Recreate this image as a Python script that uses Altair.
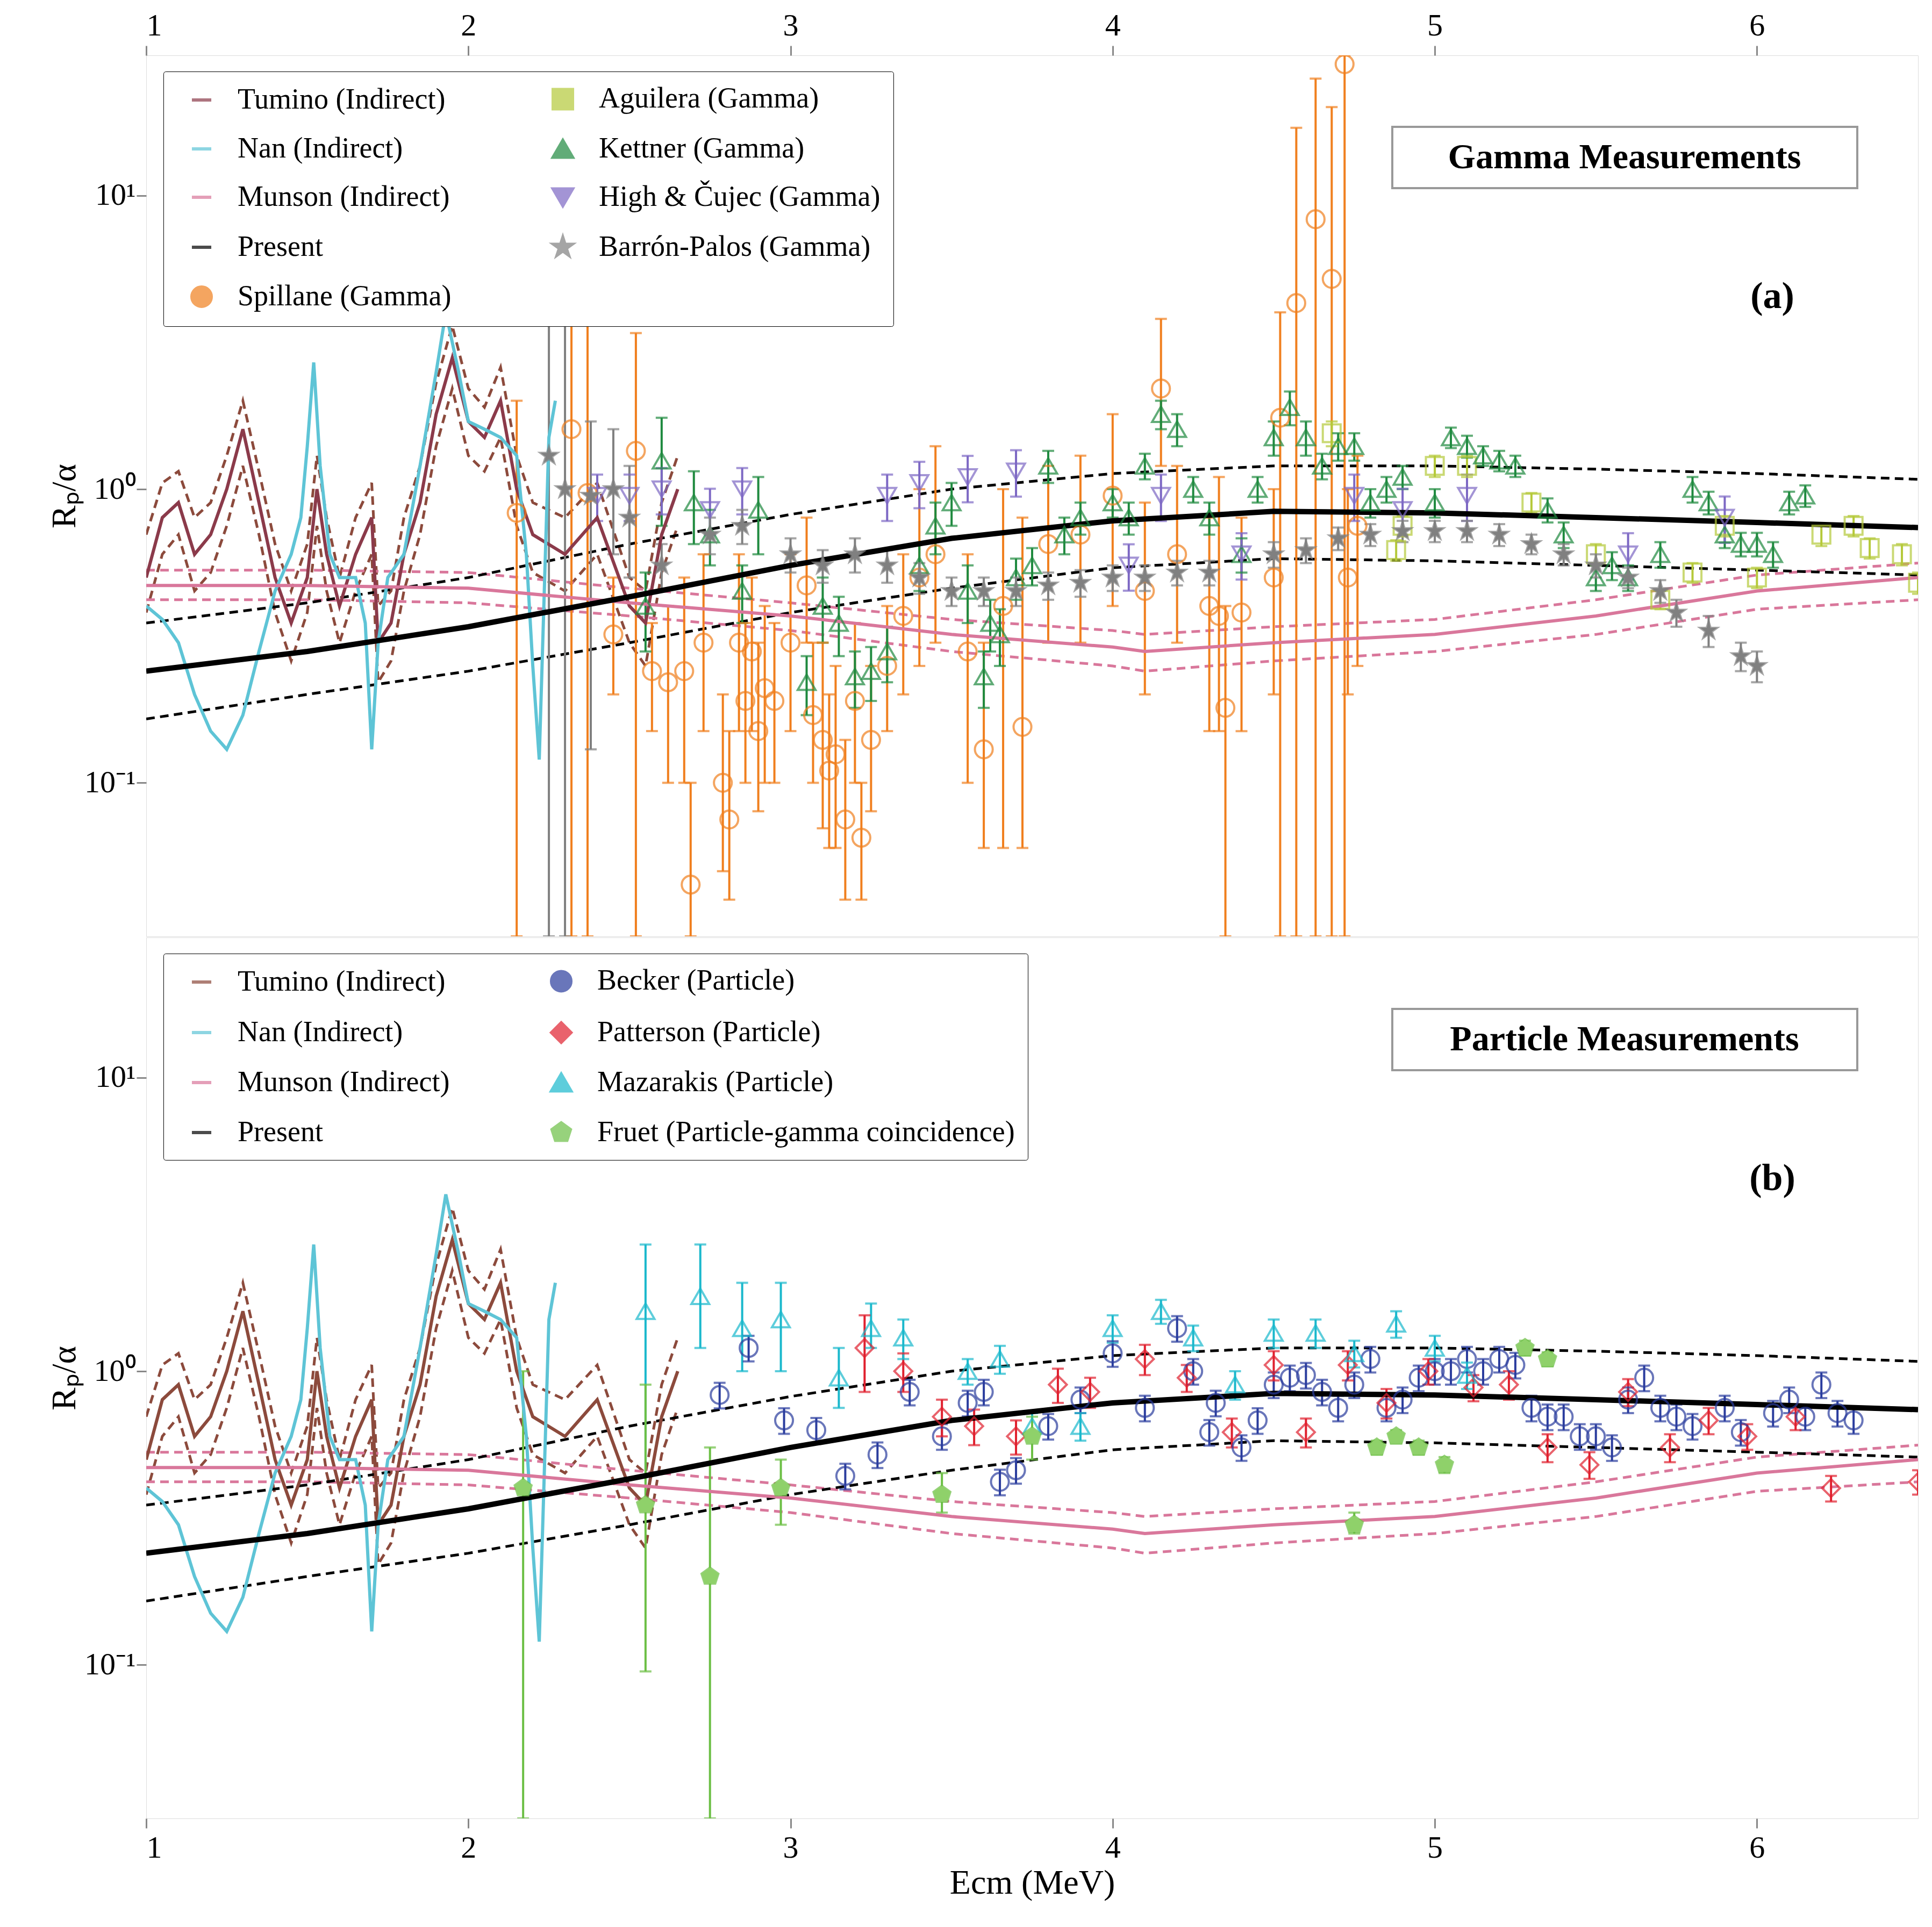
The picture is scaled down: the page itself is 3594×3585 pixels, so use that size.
import altair as alt
import pandas as pd

FONT = "Liberation Serif"

# ---------------- curves ----------------
present_x = [1.0, 1.5, 2.0, 2.5, 3.0, 3.5, 4.0, 4.5, 5.0, 5.5, 6.0, 6.5]
present_y = [0.24, 0.28, 0.34, 0.43, 0.55, 0.68, 0.78, 0.84, 0.83, 0.80, 0.77, 0.74]
present_hi = [0.35, 0.41, 0.50, 0.65, 0.82, 1.00, 1.13, 1.20, 1.20, 1.17, 1.13, 1.08]
present_lo = [0.165, 0.20, 0.24, 0.30, 0.38, 0.46, 0.54, 0.58, 0.57, 0.55, 0.53, 0.51]

munson_x = [1.0, 1.5, 2.0, 2.5, 3.0, 3.5, 4.0, 4.1, 4.5, 5.0, 5.5, 6.0, 6.5]
munson_y = [0.47, 0.47, 0.46, 0.41, 0.37, 0.32, 0.29, 0.28, 0.30, 0.32, 0.37, 0.45, 0.50]
munson_hi = [0.53, 0.53, 0.52, 0.46, 0.41, 0.36, 0.33, 0.32, 0.34, 0.36, 0.42, 0.51, 0.56]
munson_lo = [0.42, 0.42, 0.41, 0.37, 0.33, 0.28, 0.25, 0.24, 0.26, 0.28, 0.32, 0.39, 0.42]

tumino_x = [1.0, 1.05, 1.1, 1.15, 1.2, 1.25, 1.3, 1.35, 1.4, 1.45, 1.5, 1.53, 1.56, 1.6, 1.65, 1.7,
            1.72, 1.76, 1.8, 1.85, 1.9, 1.95, 2.0, 2.05, 2.1, 2.15, 2.2, 2.3, 2.4, 2.5, 2.55, 2.6, 2.65]
tumino_y = [0.5, 0.8, 0.9, 0.6, 0.7, 1.0, 1.6, 0.9, 0.5, 0.35, 0.5, 1.0, 0.6, 0.4, 0.6, 0.8,
            0.3, 0.35, 0.6, 0.9, 1.8, 2.8, 1.7, 1.5, 2.0, 1.0, 0.7, 0.6, 0.8, 0.4, 0.35, 0.7, 1.0]
tumino_hi = [0.7, 1.05, 1.15, 0.8, 0.9, 1.3, 2.0, 1.15, 0.65, 0.45, 0.65, 1.3, 0.8, 0.5, 0.8, 1.05,
             0.4, 0.45, 0.8, 1.2, 2.3, 3.6, 2.2, 1.9, 2.6, 1.3, 0.9, 0.8, 1.05, 0.5, 0.45, 0.9, 1.3]
tumino_lo = [0.38, 0.6, 0.7, 0.45, 0.52, 0.75, 1.2, 0.7, 0.38, 0.26, 0.38, 0.75, 0.45, 0.3, 0.45, 0.6,
             0.22, 0.26, 0.45, 0.7, 1.4, 2.2, 1.3, 1.15, 1.5, 0.75, 0.52, 0.45, 0.6, 0.3, 0.25, 0.52, 0.75]

nan_x = [1.0, 1.05, 1.1, 1.15, 1.2, 1.25, 1.3, 1.35, 1.4, 1.45, 1.48, 1.5, 1.52, 1.54, 1.57, 1.6, 1.65,
         1.68, 1.7, 1.72, 1.75, 1.8, 1.85, 1.9, 1.93, 1.97, 2.0, 2.05, 2.1, 2.15, 2.18, 2.2, 2.22, 2.25, 2.27]
nan_y = [0.4, 0.36, 0.3, 0.2, 0.15, 0.13, 0.17, 0.28, 0.45, 0.6, 0.8, 1.4, 2.7, 1.2, 0.6, 0.5, 0.5,
         0.35, 0.13, 0.3, 0.5, 0.6, 1.2, 2.5, 4.0, 2.5, 1.7, 1.6, 1.5, 1.3, 0.6, 0.25, 0.12, 1.5, 2.0]

# ---------------- gamma data (x, y, lo, hi) ----------------
spillane = [
    (2.15, 0.83, 0.03, 2.0), (2.32, 1.6, 0.03, 8.0), (2.37, 0.97, 0.03, 4.6), (2.45, 0.32, 0.2, 0.5),
    (2.52, 1.35, 0.03, 3.4), (2.57, 0.24, 0.15, 0.35), (2.62, 0.22, 0.1, 0.4), (2.67, 0.24, 0.1, 0.5),
    (2.69, 0.045, 0.03, 0.1), (2.73, 0.3, 0.15, 0.6), (2.79, 0.1, 0.05, 0.2), (2.81, 0.075, 0.04, 0.15),
    (2.84, 0.3, 0.15, 0.6), (2.86, 0.19, 0.1, 0.35), (2.88, 0.28, 0.15, 0.5), (2.9, 0.15, 0.08, 0.3),
    (2.92, 0.21, 0.1, 0.4), (2.95, 0.19, 0.1, 0.35), (3.0, 0.3, 0.15, 0.6), (3.05, 0.47, 0.3, 0.8),
    (3.07, 0.17, 0.1, 0.3), (3.1, 0.14, 0.07, 0.3), (3.12, 0.11, 0.06, 0.2), (3.14, 0.125, 0.06, 0.25),
    (3.17, 0.075, 0.04, 0.14), (3.2, 0.19, 0.1, 0.35), (3.22, 0.065, 0.04, 0.1), (3.25, 0.14, 0.08, 0.25),
    (3.3, 0.25, 0.15, 0.4), (3.35, 0.37, 0.2, 0.6), (3.4, 0.5, 0.25, 1.0), (3.45, 0.6, 0.3, 1.4),
    (3.55, 0.28, 0.1, 0.6), (3.6, 0.13, 0.06, 0.3), (3.66, 0.4, 0.06, 1.0), (3.72, 0.155, 0.06, 0.8),
    (3.8, 0.65, 0.3, 1.2), (3.9, 0.7, 0.3, 1.3), (4.0, 0.95, 0.4, 1.8), (4.1, 0.45, 0.2, 0.9),
    (4.15, 2.2, 1.2, 3.8), (4.2, 0.6, 0.3, 1.2), (4.3, 0.4, 0.15, 0.8), (4.33, 0.37, 0.15, 1.1),
    (4.35, 0.18, 0.03, 0.4), (4.4, 0.38, 0.15, 0.8), (4.5, 0.5, 0.2, 1.0), (4.52, 1.75, 0.03, 4.0),
    (4.57, 4.3, 0.03, 17.0), (4.63, 8.3, 0.03, 25.0), (4.68, 5.2, 0.03, 20.0), (4.72, 28.0, 0.03, 30.0),
    (4.73, 0.5, 0.2, 1.0), (4.76, 0.75, 0.25, 1.3),
]
aguilera = [
    (4.68, 1.55, 1.4, 1.7), (4.88, 0.62, 0.57, 0.67), (4.9, 0.75, 0.69, 0.81), (5.0, 1.2, 1.1, 1.3),
    (5.1, 1.2, 1.1, 1.3), (5.3, 0.9, 0.83, 0.97), (5.5, 0.6, 0.55, 0.65), (5.7, 0.42, 0.39, 0.45),
    (5.8, 0.52, 0.48, 0.56), (5.9, 0.75, 0.69, 0.81), (6.0, 0.5, 0.46, 0.54), (6.2, 0.7, 0.64, 0.76),
    (6.3, 0.75, 0.69, 0.81), (6.35, 0.63, 0.58, 0.68), (6.45, 0.6, 0.55, 0.65), (6.5, 0.48, 0.44, 0.52),
]
kettner_x = [2.55, 2.6, 2.7, 2.75, 2.85, 2.9, 3.05, 3.1, 3.15, 3.2, 3.25, 3.3, 3.4, 3.45, 3.5, 3.55,
             3.6, 3.62, 3.65, 3.7, 3.75, 3.8, 3.85, 3.9, 4.0, 4.05, 4.1, 4.15, 4.2, 4.25, 4.3, 4.4,
             4.45, 4.5, 4.55, 4.6, 4.65, 4.7, 4.75, 4.8, 4.85, 4.9, 5.0, 5.05, 5.1, 5.15, 5.2, 5.25,
             5.35, 5.4, 5.5, 5.55, 5.6, 5.7, 5.8, 5.85, 5.9, 5.95, 6.0, 6.05, 6.1, 6.15]
kettner_y = [0.4, 1.25, 0.9, 0.7, 0.45, 0.85, 0.22, 0.4, 0.35, 0.23, 0.24, 0.28, 0.55, 0.75, 0.9, 0.45,
             0.23, 0.35, 0.32, 0.5, 0.55, 1.2, 0.7, 0.8, 0.9, 0.8, 1.2, 1.8, 1.6, 1.0, 0.8, 0.6,
             1.0, 1.5, 1.9, 1.5, 1.2, 1.4, 1.4, 0.9, 1.0, 1.1, 0.9, 1.5, 1.4, 1.3, 1.25, 1.2,
             0.85, 0.7, 0.5, 0.55, 0.5, 0.6, 1.0, 0.9, 0.7, 0.65, 0.65, 0.6, 0.9, 0.95]
kettner_err = [0.12, 0.5, 0.25, 0.15, 0.1, 0.25, 0.05, 0.1, 0.08, 0.05, 0.05, 0.06, 0.1, 0.15, 0.15, 0.1,
               0.05, 0.07, 0.07, 0.08, 0.08, 0.15, 0.1, 0.1, 0.1, 0.1, 0.12, 0.2, 0.2, 0.1, 0.1, 0.08,
               0.1, 0.2, 0.25, 0.2, 0.12, 0.15, 0.15, 0.1, 0.1, 0.1, 0.1, 0.12, 0.12, 0.1, 0.1, 0.1,
               0.08, 0.07, 0.05, 0.06, 0.05, 0.06, 0.1, 0.08, 0.07, 0.06, 0.06, 0.06, 0.08, 0.08]
high_x = [2.4, 2.5, 2.6, 2.75, 2.85, 3.3, 3.4, 3.55, 3.7, 4.05, 4.15, 4.4, 4.75, 4.9, 5.1, 5.6, 5.9]
high_y = [0.95, 0.95, 1.0, 0.85, 1.0, 0.95, 1.05, 1.1, 1.15, 0.55, 0.95, 0.6, 0.95, 0.85, 0.95, 0.6, 0.8]
barron_x = [2.25, 2.3, 2.38, 2.45, 2.5, 2.6, 2.75, 2.85, 3.0, 3.1, 3.2, 3.3, 3.4, 3.5, 3.6, 3.7, 3.8,
            3.9, 4.0, 4.1, 4.2, 4.3, 4.5, 4.6, 4.7, 4.8, 4.9, 5.0, 5.1, 5.2, 5.3, 5.4, 5.5, 5.6,
            5.7, 5.75, 5.85, 5.95, 6.0]
barron_y = [1.3, 1.0, 0.95, 1.0, 0.8, 0.55, 0.7, 0.75, 0.6, 0.55, 0.6, 0.55, 0.5, 0.45, 0.45, 0.45, 0.47,
            0.48, 0.5, 0.5, 0.52, 0.52, 0.6, 0.62, 0.68, 0.7, 0.72, 0.72, 0.72, 0.7, 0.65, 0.6, 0.55, 0.5,
            0.45, 0.38, 0.33, 0.27, 0.25]
barron_lo = [0.03, 0.03, 0.13, 0.6, 0.5, 0.45, 0.6, 0.65, 0.52, 0.48, 0.52, 0.48, 0.44, 0.4, 0.4, 0.4, 0.42,
             0.43, 0.45, 0.45, 0.47, 0.47, 0.54, 0.56, 0.62, 0.64, 0.66, 0.66, 0.66, 0.64, 0.6, 0.55, 0.5,
             0.46, 0.41, 0.34, 0.29, 0.24, 0.22]
barron_hi = [4.8, 4.6, 1.7, 1.6, 1.2, 0.65, 0.8, 0.85, 0.68, 0.62, 0.68, 0.62, 0.56, 0.5, 0.5, 0.5, 0.52,
             0.53, 0.55, 0.55, 0.57, 0.57, 0.66, 0.68, 0.74, 0.76, 0.78, 0.78, 0.78, 0.76, 0.7, 0.65, 0.6,
             0.54, 0.49, 0.42, 0.37, 0.3, 0.28]

# ---------------- particle data ----------------
becker_x = [2.78, 2.87, 2.98, 3.08, 3.17, 3.27, 3.37, 3.47, 3.55, 3.6, 3.65, 3.7, 3.8, 3.9, 4.0, 4.1,
            4.2, 4.25, 4.3, 4.32, 4.4, 4.45, 4.5, 4.55, 4.6, 4.65, 4.7, 4.75, 4.8, 4.85, 4.9, 4.95,
            5.0, 5.05, 5.1, 5.15, 5.2, 5.25, 5.3, 5.35, 5.4, 5.45, 5.5, 5.55, 5.6, 5.65, 5.7, 5.75,
            5.8, 5.9, 5.95, 6.05, 6.1, 6.15, 6.2, 6.25, 6.3]
becker_y = [0.83, 1.2, 0.68, 0.63, 0.44, 0.52, 0.85, 0.6, 0.78, 0.85, 0.42, 0.46, 0.65, 0.8, 1.15, 0.75,
            1.4, 1.0, 0.62, 0.78, 0.55, 0.68, 0.9, 0.95, 0.97, 0.85, 0.75, 0.9, 1.1, 0.75, 0.8, 0.95,
            1.0, 1.0, 1.1, 1.0, 1.1, 1.05, 0.75, 0.7, 0.7, 0.6, 0.6, 0.55, 0.8, 0.95, 0.75, 0.7,
            0.65, 0.75, 0.62, 0.72, 0.8, 0.7, 0.9, 0.72, 0.68]
patterson = [
    (3.23, 1.2, 0.85, 1.55), (3.35, 1.0, 0.85, 1.15), (3.47, 0.7, 0.6, 0.8), (3.57, 0.65, 0.56, 0.74),
    (3.7, 0.6, 0.52, 0.68), (3.83, 0.9, 0.78, 1.02), (3.93, 0.85, 0.75, 0.95), (4.1, 1.1, 0.97, 1.23),
    (4.23, 0.95, 0.85, 1.05), (4.37, 0.62, 0.55, 0.69), (4.5, 1.05, 0.93, 1.17), (4.6, 0.62, 0.55, 0.69),
    (4.73, 1.05, 0.93, 1.17), (4.85, 0.78, 0.69, 0.87), (4.98, 1.0, 0.9, 1.1), (5.12, 0.88, 0.79, 0.97),
    (5.23, 0.9, 0.8, 1.0), (5.35, 0.55, 0.49, 0.61), (5.48, 0.48, 0.43, 0.53), (5.6, 0.85, 0.76, 0.94),
    (5.73, 0.55, 0.49, 0.61), (5.85, 0.68, 0.61, 0.75), (5.97, 0.6, 0.54, 0.66), (6.12, 0.7, 0.63, 0.77),
    (6.23, 0.4, 0.36, 0.44), (6.5, 0.42, 0.38, 0.46),
]
mazarakis = [
    (2.55, 1.6, 0.35, 2.7), (2.72, 1.8, 1.2, 2.7), (2.85, 1.4, 1.0, 2.0), (2.97, 1.5, 1.0, 2.0),
    (3.15, 0.95, 0.75, 1.2), (3.25, 1.4, 1.2, 1.7), (3.35, 1.3, 1.1, 1.5), (3.55, 1.0, 0.9, 1.1),
    (3.65, 1.1, 0.98, 1.22), (3.75, 0.65, 0.58, 0.72), (3.9, 0.65, 0.58, 0.72), (4.0, 1.4, 1.25, 1.55),
    (4.15, 1.6, 1.45, 1.75), (4.25, 1.3, 1.17, 1.43), (4.38, 0.9, 0.8, 1.0), (4.5, 1.35, 1.2, 1.5),
    (4.63, 1.35, 1.2, 1.5), (4.75, 1.15, 1.03, 1.27), (4.88, 1.45, 1.3, 1.6), (5.0, 1.2, 1.08, 1.32),
    (5.1, 0.97, 0.87, 1.07),
]
fruet = [
    (2.17, 0.4, 0.03, 1.0), (2.55, 0.35, 0.095, 0.9), (2.75, 0.2, 0.03, 0.55), (2.97, 0.4, 0.3, 0.5),
    (3.47, 0.38, 0.33, 0.45), (3.75, 0.6, 0.5, 0.7), (4.75, 0.3, 0.28, 0.33), (4.82, 0.55, 0.52, 0.58),
    (4.88, 0.6, 0.57, 0.63), (4.95, 0.55, 0.52, 0.58), (5.03, 0.48, 0.45, 0.51), (5.28, 1.2, 1.13, 1.27),
    (5.35, 1.1, 1.04, 1.16),
]

STAR = "M0,-1L0.22,-0.31L0.95,-0.31L0.36,0.12L0.59,0.81L0,0.38L-0.59,0.81L-0.36,0.12L-0.95,-0.31L-0.22,-0.31Z"
PENT = "M0,-1L0.95,-0.31L0.59,0.81L-0.59,0.81L-0.95,-0.31Z"

C_TUM, C_NAN, C_MUN = "#8c4a3c", "#5ec4d6", "#d9779b"

def pts(name, rows):
    return [dict(series=name, x=r[0], y=r[1], lo=r[2], hi=r[3]) for r in rows]

gamma_pts = (pts("Spillane (Gamma)", spillane) + pts("Aguilera (Gamma)", aguilera)
             + pts("Kettner (Gamma)", [(x, y, y - e, y + e) for x, y, e in zip(kettner_x, kettner_y, kettner_err)])
             + pts("High & Čujec (Gamma)", [(x, y, y * 0.82, y * 1.18) for x, y in zip(high_x, high_y)])
             + pts("Barrón-Palos (Gamma)", list(zip(barron_x, barron_y, barron_lo, barron_hi))))
part_pts = (pts("Becker (Particle)", [(x, y, y * 0.9, y * 1.1) for x, y in zip(becker_x, becker_y)])
            + pts("Patterson (Particle)", patterson) + pts("Mazarakis (Particle)", mazarakis)
            + pts("Fruet (Particle-gamma coincidence)", fruet))

def curve(name, xs, ys):
    return [dict(series=name, x=a, y=b) for a, b in zip(xs, ys)]

main_lines = pd.DataFrame(curve("Tumino (Indirect)", tumino_x, tumino_y) + curve("Nan (Indirect)", nan_x, nan_y)
                          + curve("Munson (Indirect)", munson_x, munson_y) + curve("Present", present_x, present_y))

XS = alt.Scale(domain=[1, 6.5], nice=False, zero=False)
YS = alt.Scale(type="log", domain=[0.03, 30], nice=False)
W, H = 3296, 1639

def panel(points, domain, crange, srange, filled, label, box_text, top):
    leg = alt.Legend(orient="none", legendX=32, legendY=30, columns=2, title=None,
                     labelFont=FONT, labelFontSize=54, symbolSize=1300, symbolStrokeWidth=6,
                     symbolFillColor="transparent",
                     columnPadding=160, rowPadding=34, padding=24, fillColor="white",
                     strokeColor="black", cornerRadius=4, labelLimit=1200, symbolOffset=20,
                     labelOffset=40)
    color = alt.Color("series:N", scale=alt.Scale(domain=domain, range=crange), legend=leg)
    shape = alt.Shape("series:N", scale=alt.Scale(domain=domain, range=srange), legend=leg)
    xaxis = alt.Axis(orient="top" if top else "bottom", values=[1, 2, 3, 4, 5, 6], format="d",
                     title=None if top else "Ecm (MeV)", grid=False, tickSize=18, tickWidth=3,
                     labelFontSize=58, titleFontSize=64, labelFont=FONT, titleFont=FONT,
                     titleFontWeight="normal", labelPadding=8, domain=False)
    yaxis = alt.Axis(values=[0.1, 1, 10], grid=False, title="Rₚ/α", tickSize=18, tickWidth=3,
                     labelExpr="datum.value==10?'10¹':datum.value==1?'10⁰':'10⁻¹'",
                     labelFontSize=58, titleFontSize=64, labelFont=FONT, titleFont=FONT,
                     titleFontWeight="normal", domain=False)
    X = alt.X("x:Q", scale=XS, axis=xaxis)
    Y = alt.Y("y:Q", scale=YS, axis=yaxis)

    layers = []
    bands = [(tumino_x, tumino_hi, C_TUM), (tumino_x, tumino_lo, C_TUM),
             (munson_x, munson_hi, C_MUN), (munson_x, munson_lo, C_MUN),
             (present_x, present_hi, "black"), (present_x, present_lo, "black")]
    for bx, by, c in bands:
        layers.append(alt.Chart(pd.DataFrame({"x": bx, "y": by})).mark_line(
            clip=True, strokeDash=[16, 10], strokeWidth=5, color=c).encode(x=X, y=Y))
    pdf = pd.DataFrame(points)
    layers.append(alt.Chart(pdf).mark_rule(clip=True, strokeWidth=4).encode(
        x=X, y=alt.Y("lo:Q", scale=YS, axis=yaxis), y2="hi:Q", color=color))
    for f in ["lo", "hi"]:
        layers.append(alt.Chart(pdf).mark_tick(clip=True, orient="horizontal", size=22, thickness=4).encode(
            x=X, y=alt.Y(f + ":Q", scale=YS, axis=yaxis), color=color))
    layers.append(alt.Chart(main_lines).mark_line(clip=True, strokeWidth=6).encode(
        x=X, y=Y, color=color, size=alt.condition("datum.series=='Present'", alt.value(10), alt.value(6)),
        detail="series:N"))
    layers.append(alt.Chart(pdf).mark_point(clip=True, size=1100, strokeWidth=4, filled=False).encode(
        x=X, y=Y, color=color, shape=shape))
    fname, fshape, fcol = filled
    fdf = pdf[pdf["series"] == fname]
    layers.append(alt.Chart(fdf).mark_point(clip=True, size=1100, filled=True, opacity=1,
                                            shape=fshape, color=fcol).encode(x=X, y=Y))
    one = pd.DataFrame({"a": [0]})
    layers.append(alt.Chart(one).mark_rect(fill="white", stroke="#999999", strokeWidth=4).encode(
        x=alt.value(2318), x2=alt.value(3183), y=alt.value(133), y2=alt.value(247)))
    layers.append(alt.Chart(one).mark_text(text=box_text, font=FONT, fontSize=66, fontWeight="bold").encode(
        x=alt.value(2750), y=alt.value(190)))
    layers.append(alt.Chart(one).mark_text(text=label, font=FONT, fontSize=70, fontWeight="bold").encode(
        x=alt.value(3025), y=alt.value(449)))
    return alt.layer(*layers).properties(width=W, height=H)

gamma_domain = ["Tumino (Indirect)", "Nan (Indirect)", "Munson (Indirect)", "Present", "Spillane (Gamma)",
                "Aguilera (Gamma)", "Kettner (Gamma)", "High & Čujec (Gamma)", "Barrón-Palos (Gamma)"]
gamma_colors = ["#8b3a4a", C_NAN, C_MUN, "black", "#f07f1e", "#b5c93a", "#1f8a3f", "#7d68c4", "#808080"]
gamma_shapes = ["stroke", "stroke", "stroke", "stroke", "circle", "square", "triangle-up", "triangle-down", STAR]

part_domain = ["Tumino (Indirect)", "Nan (Indirect)", "Munson (Indirect)", "Present",
               "Becker (Particle)", "Patterson (Particle)", "Mazarakis (Particle)",
               "Fruet (Particle-gamma coincidence)"]
part_colors = [C_TUM, C_NAN, C_MUN, "black", "#2b3d9e", "#e0202e", "#1ab8cc", "#6cbf45"]
part_shapes = ["stroke", "stroke", "stroke", "stroke", "circle", "diamond", "triangle-up", PENT]

top = panel(gamma_pts, gamma_domain, gamma_colors, gamma_shapes,
            ("Barrón-Palos (Gamma)", STAR, "#808080"), "(a)", "Gamma Measurements", True)
bot = panel(part_pts, part_domain, part_colors, part_shapes,
            ("Fruet (Particle-gamma coincidence)", PENT, "#8fd16a"), "(b)", "Particle Measurements", False)

chart = alt.vconcat(top, bot, spacing=0).resolve_scale(color="independent", shape="independent").configure_view(
    stroke="black", strokeWidth=4).properties(
    padding={"left": 80, "top": 10, "right": 10, "bottom": 10}).configure(background="white")
chart.save("out.html", embed_options={"renderer": "svg", "actions": False})
